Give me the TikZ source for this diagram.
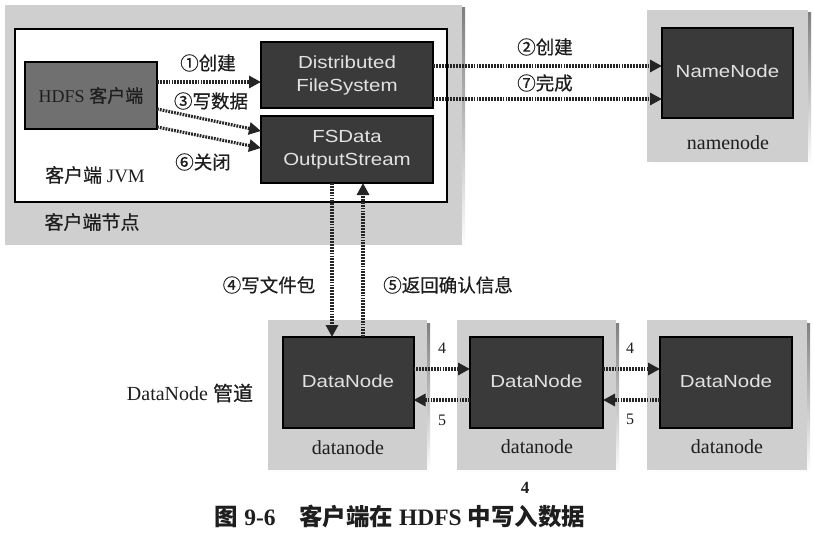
\documentclass[tikz,border=0pt]{standalone}
\usepackage{fontspec}
\usepackage{graphicx}
\setmainfont{Liberation Serif}
\newfontfamily\cjk{Noto Sans CJK SC}[FakeBold=0.6]
\newfontfamily\cjkcap{Noto Sans CJK SC}
\newfontfamily\sansf{Liberation Sans}
\usetikzlibrary{arrows.meta}
\definecolor{panel}{HTML}{CFCFCF}
\definecolor{darkbox}{HTML}{3A3A3A}
\definecolor{midbox}{HTML}{707070}
\definecolor{ink}{HTML}{1E1E1E}
\definecolor{boxtext}{HTML}{E2E2E2}
\definecolor{shade}{HTML}{5A5A5A}
\definecolor{flow}{HTML}{252525}
\newcommand{\fs}[1]{\fontsize{#1}{#1}\selectfont}
\newcommand{\boxtxt}[1]{\scalebox{1.17}[1.0]{\fontsize{17.5}{23}\selectfont\begin{tabular}{@{}c@{}}#1\end{tabular}}}
\tikzset{
  panelbox/.style={fill=panel, draw=none, inner sep=0pt, outer sep=0pt},
  jvmbox/.style={fill=white, draw=black, line width=2pt, inner sep=0pt, outer sep=0pt},
  darkblock/.style={fill=darkbox, draw=black, line width=2pt, inner sep=0pt, outer sep=0pt,
    text=boxtext, font=\sansf, align=center},
  clientblock/.style={fill=midbox, draw=black, line width=2pt, inner sep=0pt, outer sep=0pt,
    text=ink, font=\fs{18}, align=center},
  flowarrow/.style={draw=flow, line width=3.2pt, dash pattern=on 1.8pt off 1.1pt,
    -{Triangle[length=12pt,width=12pt]}},
  cjklabel/.style={text=ink, font=\cjk\fs{18.5}, inner sep=0pt},
  seriflabel/.style={text=ink, font=\fs{19}, inner sep=0pt},
  numlabel/.style={text=ink, font=\fs{16}, inner sep=0pt},
}
\begin{document}
\begin{tikzpicture}[x=1pt,y=-1pt]
\useasboundingbox[fill=white] (0,0) rectangle (814,535);

% ---------- client node panel ----------
\fill[shade] (8,8) rectangle (465,248);
\node[panelbox, minimum width=457pt, minimum height=240pt] (clientpanel) at (233.5,125) {};
\node[jvmbox, minimum width=432pt, minimum height=173pt] (jvm) at (231,115.5) {};
\node[clientblock, minimum width=132pt, minimum height=67pt] (hdfs) at (91,95.5) {HDFS {\cjk 客户端}};
\node[darkblock, minimum width=172pt, minimum height=66pt] (dfs) at (347,75) {\boxtxt{Distributed\\FileSystem}};
\node[darkblock, minimum width=172pt, minimum height=67pt] (fsd) at (347,149.5) {\boxtxt{FSData\\OutputStream}};
\node[seriflabel] (jvmlabel) at (95,175) {{\cjk 客户端} JVM};
\node[cjklabel, font=\cjk\fs{19}] (clientlabel) at (92,222) {客户端节点};

% ---------- namenode panel ----------
\fill[shade] (650,13) rectangle (811,165);
\node[panelbox, minimum width=161pt, minimum height=152pt] (nnpanel) at (727.5,86) {};
\node[darkblock, minimum width=131pt, minimum height=90pt] (nn) at (727.5,73) {\boxtxt{NameNode}};
\node[seriflabel, font=\fs{20}] (nnlabel) at (728,143) {namenode};

% ---------- datanode panels ----------
\fill[shade] (271,323) rectangle (430,473);
\node[panelbox, minimum width=159pt, minimum height=150pt] (dn1panel) at (347.5,395) {};
\node[darkblock, minimum width=131pt, minimum height=91pt] (dn1) at (348,382.5) {\boxtxt{DataNode}};
\node[seriflabel, font=\fs{20}] (dn1label) at (348,448) {datanode};

\fill[shade] (460,323) rectangle (619,473);
\node[panelbox, minimum width=159pt, minimum height=150pt] (dn2panel) at (536.5,395) {};
\node[darkblock, minimum width=133pt, minimum height=91pt] (dn2) at (536.5,382.5) {\boxtxt{DataNode}};
\node[seriflabel, font=\fs{20}] (dn2label) at (537,447) {datanode};

\fill[shade] (650,323) rectangle (810,473);
\node[panelbox, minimum width=160pt, minimum height=150pt] (dn3panel) at (727,395) {};
\node[darkblock, minimum width=132pt, minimum height=91pt] (dn3) at (726,382.5) {\boxtxt{DataNode}};
\node[seriflabel, font=\fs{20}] (dn3label) at (727,447) {datanode};

\node[seriflabel, font=\fs{20}] (pipelabel) at (190,393) {DataNode {\cjk 管道}};

% ---------- arrows ----------
\draw[flowarrow] (hdfs.east |- 0,82) -- (dfs.west |- 0,82);
\draw[flowarrow] (hdfs.east |- 0,109) -- (fsd.west |- 0,131);
\draw[flowarrow] (hdfs.east |- 0,127) -- (fsd.west |- 0,148);
\draw[flowarrow] (dfs.east |- 0,66) -- (nn.west |- 0,66);
\draw[flowarrow] (dfs.east |- 0,99) -- (nn.west |- 0,99);
\draw[flowarrow] (fsd.south -| 332,0) -- (dn1.north -| 332,0);
\draw[flowarrow] (dn1.north -| 363,0) -- (fsd.south -| 363,0);
\draw[flowarrow] (dn1.east |- 0,369) -- (dn2.west |- 0,369);
\draw[flowarrow] (dn2.west |- 0,400) -- (dn1.east |- 0,400);
\draw[flowarrow] (dn2.east |- 0,369) -- (dn3.west |- 0,369);
\draw[flowarrow] (dn3.west |- 0,400) -- (dn2.east |- 0,400);

% ---------- arrow labels ----------
\node[cjklabel] (l1) at (208,63) {①创建};
\node[cjklabel] (l3) at (211,101) {③写数据};
\node[cjklabel] (l6) at (203,162) {⑥关闭};
\node[cjklabel] (l2) at (545,47) {②创建};
\node[cjklabel] (l7) at (545,83) {⑦完成};
\node[cjklabel] (l4) at (269,285) {④写文件包};
\node[cjklabel] (l5) at (448,285) {⑤返回确认信息};
\node[numlabel] (n4a) at (442,348) {4};
\node[numlabel] (n5a) at (442,420) {5};
\node[numlabel] (n4b) at (630,348) {4};
\node[numlabel] (n5b) at (630,419) {5};

% ---------- caption ----------
\node[numlabel, font=\bfseries\fs{17}] (stray) at (525,488) {4};
\node[text=ink, inner sep=0pt, font=\bfseries\fs{23.5}] (caption) at (400,517)
  {{\cjkcap 图} 9-6\hspace{1em}{\cjkcap 客户端在} HDFS {\cjkcap 中写入数据}};
\end{tikzpicture}
\end{document}
